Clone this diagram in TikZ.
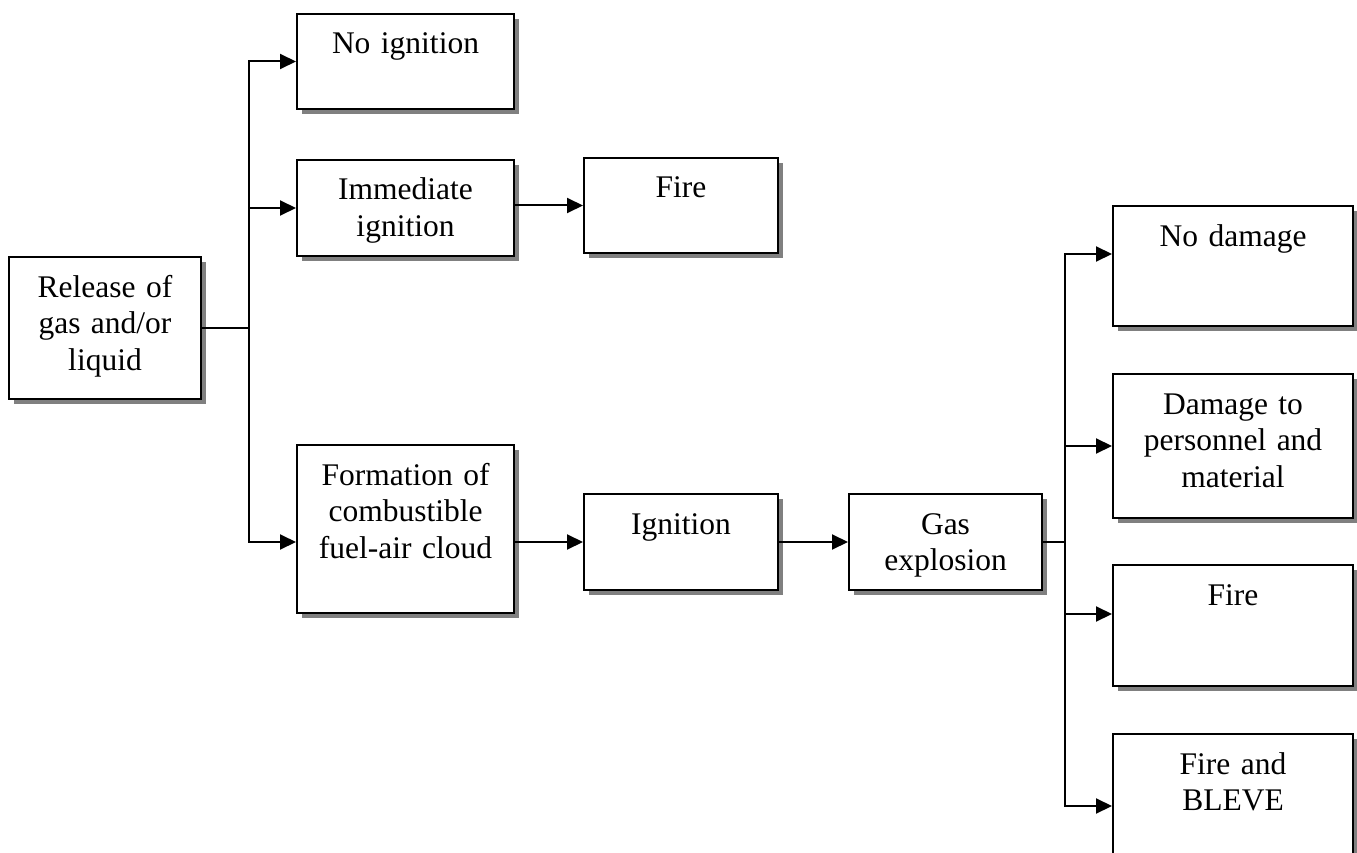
\documentclass[tikz,border=0pt]{standalone}
\usepackage{fontspec}
\setmainfont{Liberation Serif}
\usetikzlibrary{arrows.meta,shadows,calc}
\definecolor{shade}{HTML}{808080}

\tikzset{
  box/.style={draw, line width=2pt, fill=white, anchor=north west, inner sep=0pt,
    align=center, text height=40pt, font=\fontsize{31.5}{36.5}\selectfont,
    drop shadow={shadow xshift=5pt, shadow yshift=-5pt, fill=shade, opacity=1}},
  link/.style={line width=2pt, line cap=rect},
  arr/.style={line width=2pt, -{Triangle[length=16pt,width=15pt]}}
}

\begin{document}
\begin{tikzpicture}[x=1pt,y=-1pt]
  \useasboundingbox (0,0) rectangle (1357,853);

  % Release and first branches
  \node[box, text width=192pt, text depth=102pt] (release) at (8,256) {Release of\\gas and/or\\liquid};
  \node[box, text width=217pt, text depth=55pt] (noign) at (296,13) {No ignition};
  \node[box, text width=217pt, text depth=56pt] (immed) at (296,159) {Immediate\\ignition};
  \node[box, text width=194pt, text depth=55pt] (fire) at (583,157) {Fire};
  \node[box, text width=217pt, text depth=128pt] (cloud) at (296,444) {Formation of\\combustible\\fuel-air cloud};

  % Ignition chain
  \node[box, text width=194pt, text depth=56pt] (ignition) at (583,493) {Ignition};
  \node[box, text width=193pt, text depth=56pt] (explosion) at (848,493) {Gas\\explosion};

  % Consequences
  \node[box, text width=240pt, text depth=80pt] (nodamage) at (1112,205) {No damage};
  \node[box, text width=240pt, text depth=104pt] (damage) at (1112,373) {Damage to\\personnel and\\material};
  \node[box, text width=240pt, text depth=81pt] (firetwo) at (1112,564) {Fire};
  \node[box, text width=240pt, text depth=104pt] (bleve) at (1112,733) {Fire and\\BLEVE};

  % Left fork
  \coordinate (split) at ($(release.east)+(47,0)$);
  \draw[link] (release.east) -- (split);
  \draw[link] (split |- noign.west) -- (split |- ignition.west);
  \draw[arr] (split |- noign.west) -- (noign.west);
  \draw[arr] (split |- immed.west) -- (immed.west);
  \draw[arr] (split |- ignition.west) -- (cloud.west |- ignition.west);
  \draw[arr] (immed.east |- fire.west) -- (fire.west);
  \draw[arr] (cloud.east |- ignition.west) -- (ignition.west);
  \draw[arr] (ignition.east) -- (explosion.west);

  % Right fork
  \coordinate (spread) at ($(explosion.east)+(22,0)$);
  \coordinate (hitA) at ([yshift=12pt]nodamage.west);
  \coordinate (hitB) at ([yshift=11.5pt]firetwo.west);
  \draw[link] (explosion.east) -- (spread);
  \draw[link] (spread |- hitA) -- (spread |- bleve.west);
  \draw[arr] (spread |- hitA) -- (hitA);
  \draw[arr] (spread |- damage.west) -- (damage.west);
  \draw[arr] (spread |- hitB) -- (hitB);
  \draw[arr] (spread |- bleve.west) -- (bleve.west);
\end{tikzpicture}
\end{document}
